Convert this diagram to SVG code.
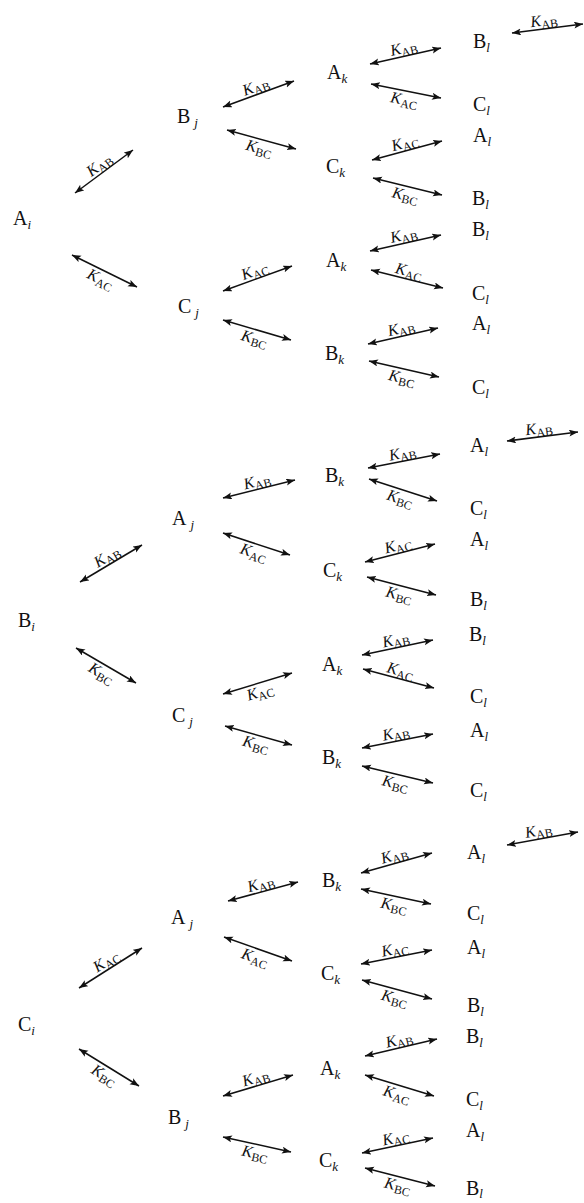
<svg xmlns="http://www.w3.org/2000/svg" width="584" height="1203" viewBox="0 0 584 1203">
<style>
.n{font-family:"Liberation Serif","Times New Roman",serif;font-size:20px;fill:#111}
.s{font-style:italic;font-size:13px}
.c line{stroke:#111;stroke-width:1.5;marker-start:url(#ah);marker-end:url(#ah)}
.k{font-family:"Liberation Serif","Times New Roman",serif;font-size:16px;font-style:italic;fill:#111;text-anchor:middle}
.ks{font-style:normal;font-size:12px}
</style>
<defs>
<marker id="ah" markerUnits="userSpaceOnUse" markerWidth="10" markerHeight="8" refX="9" refY="3.5" orient="auto-start-reverse" viewBox="0 0 10 8">
<path d="M0,0 L9,3.5 L0,7 L2,3.5 z" fill="#111"/>
</marker>
</defs>
<rect width="584" height="1203" fill="#fff"/>
<g id="connectors" class="c">
<line x1="75" y1="193" x2="133" y2="150"/>
<line x1="72" y1="255" x2="137" y2="287"/>
<line x1="223" y1="107" x2="294" y2="81"/>
<line x1="227" y1="130" x2="296" y2="149"/>
<line x1="370" y1="64" x2="441" y2="48"/>
<line x1="371" y1="84" x2="441" y2="98"/>
<line x1="512" y1="33" x2="583" y2="24"/>
<line x1="372" y1="160" x2="442" y2="141"/>
<line x1="373" y1="178" x2="442" y2="195"/>
<line x1="223" y1="291" x2="292" y2="266"/>
<line x1="223" y1="320" x2="291" y2="340"/>
<line x1="370" y1="251" x2="441" y2="235"/>
<line x1="371" y1="270" x2="443" y2="288"/>
<line x1="368" y1="344" x2="438" y2="328"/>
<line x1="369" y1="361" x2="439" y2="377"/>
<line x1="80" y1="582" x2="142" y2="545"/>
<line x1="76" y1="648" x2="136" y2="683"/>
<line x1="223" y1="498" x2="295" y2="480"/>
<line x1="223" y1="533" x2="290" y2="555"/>
<line x1="368" y1="468" x2="440" y2="454"/>
<line x1="369" y1="479" x2="437" y2="501"/>
<line x1="507" y1="441" x2="578" y2="432"/>
<line x1="365" y1="562" x2="435" y2="544"/>
<line x1="367" y1="577" x2="436" y2="595"/>
<line x1="223" y1="694" x2="292" y2="673"/>
<line x1="225" y1="726" x2="292" y2="745"/>
<line x1="362" y1="655" x2="433" y2="640"/>
<line x1="363" y1="669" x2="434" y2="688"/>
<line x1="362" y1="748" x2="433" y2="734"/>
<line x1="362" y1="766" x2="433" y2="783"/>
<line x1="79" y1="988" x2="142" y2="948"/>
<line x1="79" y1="1049" x2="139" y2="1086"/>
<line x1="228" y1="901" x2="298" y2="882"/>
<line x1="224" y1="937" x2="292" y2="961"/>
<line x1="361" y1="873" x2="432" y2="853"/>
<line x1="361" y1="889" x2="431" y2="904"/>
<line x1="507" y1="845" x2="578" y2="832"/>
<line x1="361" y1="964" x2="432" y2="950"/>
<line x1="362" y1="980" x2="432" y2="999"/>
<line x1="223" y1="1096" x2="293" y2="1075"/>
<line x1="223" y1="1137" x2="291" y2="1152"/>
<line x1="365" y1="1056" x2="437" y2="1039"/>
<line x1="365" y1="1075" x2="434" y2="1096"/>
<line x1="362" y1="1153" x2="433" y2="1138"/>
<line x1="365" y1="1168" x2="435" y2="1186"/>
<g id="labels">
<text class="k" transform="translate(104,171.5) rotate(-36.6)" y="-3">K<tspan class="ks" dy="3">AB</tspan></text>
<text class="k" transform="translate(104.5,271) rotate(26.2)" y="14">K<tspan class="ks" dy="3">AC</tspan></text>
<text class="k" transform="translate(258.5,94) rotate(-20.1)" y="-3">K<tspan class="ks" dy="3">AB</tspan></text>
<text class="k" transform="translate(261.5,139.5) rotate(15.4)" y="14">K<tspan class="ks" dy="3">BC</tspan></text>
<text class="k" transform="translate(405.5,56) rotate(-12.7)" y="-3">K<tspan class="ks" dy="3">AB</tspan></text>
<text class="k" transform="translate(406,91) rotate(11.3)" y="14">K<tspan class="ks" dy="3">AC</tspan></text>
<text class="k" transform="translate(545,28.5) rotate(-7.2)" y="-3">K<tspan class="ks" dy="3">AB</tspan></text>
<text class="k" transform="translate(407,150.5) rotate(-15.2)" y="-3">K<tspan class="ks" dy="3">AC</tspan></text>
<text class="k" transform="translate(407.5,186.5) rotate(13.8)" y="14">K<tspan class="ks" dy="3">BC</tspan></text>
<text class="k" transform="translate(257.5,278.5) rotate(-19.9)" y="-3">K<tspan class="ks" dy="3">AC</tspan></text>
<text class="k" transform="translate(257,330) rotate(16.4)" y="14">K<tspan class="ks" dy="3">BC</tspan></text>
<text class="k" transform="translate(405.5,243) rotate(-12.7)" y="-3">K<tspan class="ks" dy="3">AB</tspan></text>
<text class="k" transform="translate(407,279) rotate(14)" y="-3">K<tspan class="ks" dy="3">AC</tspan></text>
<text class="k" transform="translate(403,336) rotate(-12.9)" y="-3">K<tspan class="ks" dy="3">AB</tspan></text>
<text class="k" transform="translate(404,369) rotate(12.9)" y="14">K<tspan class="ks" dy="3">BC</tspan></text>
<text class="k" transform="translate(111,563.5) rotate(-30.8)" y="-3">K<tspan class="ks" dy="3">AB</tspan></text>
<text class="k" transform="translate(106,665.5) rotate(30.3)" y="14">K<tspan class="ks" dy="3">BC</tspan></text>
<text class="k" transform="translate(259,489) rotate(-14)" y="-3">K<tspan class="ks" dy="3">AB</tspan></text>
<text class="k" transform="translate(256.5,544) rotate(18.2)" y="14">K<tspan class="ks" dy="3">AC</tspan></text>
<text class="k" transform="translate(404,461) rotate(-11)" y="-3">K<tspan class="ks" dy="3">AB</tspan></text>
<text class="k" transform="translate(403,490) rotate(17.9)" y="14">K<tspan class="ks" dy="3">BC</tspan></text>
<text class="k" transform="translate(540,436.5) rotate(-7.2)" y="-3">K<tspan class="ks" dy="3">AB</tspan></text>
<text class="k" transform="translate(400,553) rotate(-14.4)" y="-3">K<tspan class="ks" dy="3">AC</tspan></text>
<text class="k" transform="translate(401.5,586) rotate(14.6)" y="14">K<tspan class="ks" dy="3">BC</tspan></text>
<text class="k" transform="translate(257.5,683.5) rotate(-16.9)" y="14">K<tspan class="ks" dy="3">AC</tspan></text>
<text class="k" transform="translate(258.5,735.5) rotate(15.8)" y="14">K<tspan class="ks" dy="3">BC</tspan></text>
<text class="k" transform="translate(397.5,647.5) rotate(-11.9)" y="-3">K<tspan class="ks" dy="3">AB</tspan></text>
<text class="k" transform="translate(398.5,678.5) rotate(15)" y="-3">K<tspan class="ks" dy="3">AC</tspan></text>
<text class="k" transform="translate(397.5,741) rotate(-11.2)" y="-3">K<tspan class="ks" dy="3">AB</tspan></text>
<text class="k" transform="translate(397.5,774.5) rotate(13.5)" y="14">K<tspan class="ks" dy="3">BC</tspan></text>
<text class="k" transform="translate(110.5,968) rotate(-32.4)" y="-3">K<tspan class="ks" dy="3">AC</tspan></text>
<text class="k" transform="translate(109,1067.5) rotate(31.7)" y="14">K<tspan class="ks" dy="3">BC</tspan></text>
<text class="k" transform="translate(263,891.5) rotate(-15.2)" y="-3">K<tspan class="ks" dy="3">AB</tspan></text>
<text class="k" transform="translate(258,949) rotate(19.4)" y="14">K<tspan class="ks" dy="3">AC</tspan></text>
<text class="k" transform="translate(396.5,863) rotate(-15.7)" y="-3">K<tspan class="ks" dy="3">AB</tspan></text>
<text class="k" transform="translate(396,896.5) rotate(12.1)" y="14">K<tspan class="ks" dy="3">BC</tspan></text>
<text class="k" transform="translate(540,838.5) rotate(-10.4)" y="-3">K<tspan class="ks" dy="3">AB</tspan></text>
<text class="k" transform="translate(396.5,957) rotate(-11.2)" y="-3">K<tspan class="ks" dy="3">AC</tspan></text>
<text class="k" transform="translate(397,989.5) rotate(15.2)" y="14">K<tspan class="ks" dy="3">BC</tspan></text>
<text class="k" transform="translate(258,1085.5) rotate(-16.7)" y="-3">K<tspan class="ks" dy="3">AB</tspan></text>
<text class="k" transform="translate(257,1144.5) rotate(12.4)" y="14">K<tspan class="ks" dy="3">BC</tspan></text>
<text class="k" transform="translate(401,1047.5) rotate(-13.3)" y="-3">K<tspan class="ks" dy="3">AB</tspan></text>
<text class="k" transform="translate(399.5,1085.5) rotate(16.9)" y="14">K<tspan class="ks" dy="3">AC</tspan></text>
<text class="k" transform="translate(397.5,1145.5) rotate(-11.9)" y="-3">K<tspan class="ks" dy="3">AC</tspan></text>
<text class="k" transform="translate(400,1177) rotate(14.4)" y="14">K<tspan class="ks" dy="3">BC</tspan></text>
</g>
</g>
<g id="nodes">
<g id="A_i"><text class="n" x="13" y="225">A<tspan class="s" dy="4">i</tspan></text></g>
<g id="B_j1"><text class="n" x="177" y="123">B<tspan class="s" dx="4" dy="4">j</tspan></text></g>
<g id="C_j1"><text class="n" x="178" y="313">C<tspan class="s" dx="4" dy="4">j</tspan></text></g>
<g id="A_k1"><text class="n" x="327" y="79">A<tspan class="s" dy="4">k</tspan></text></g>
<g id="C_k1"><text class="n" x="326" y="173">C<tspan class="s" dy="4">k</tspan></text></g>
<g id="A_k2"><text class="n" x="326" y="267">A<tspan class="s" dy="4">k</tspan></text></g>
<g id="B_k2"><text class="n" x="325" y="360">B<tspan class="s" dy="4">k</tspan></text></g>
<g id="B_l1"><text class="n" x="473" y="48">B<tspan class="s" dy="4">l</tspan></text></g>
<g id="C_l1"><text class="n" x="473" y="111">C<tspan class="s" dy="4">l</tspan></text></g>
<g id="A_l2"><text class="n" x="473" y="142">A<tspan class="s" dy="4">l</tspan></text></g>
<g id="B_l2"><text class="n" x="472" y="205">B<tspan class="s" dy="4">l</tspan></text></g>
<g id="B_l3"><text class="n" x="472" y="236">B<tspan class="s" dy="4">l</tspan></text></g>
<g id="C_l3"><text class="n" x="472" y="300">C<tspan class="s" dy="4">l</tspan></text></g>
<g id="A_l4"><text class="n" x="472" y="330">A<tspan class="s" dy="4">l</tspan></text></g>
<g id="C_l4"><text class="n" x="472" y="394">C<tspan class="s" dy="4">l</tspan></text></g>
<g id="B_i"><text class="n" x="18" y="627">B<tspan class="s" dy="4">i</tspan></text></g>
<g id="A_j2"><text class="n" x="172" y="525">A<tspan class="s" dx="4" dy="4">j</tspan></text></g>
<g id="C_j2"><text class="n" x="172" y="722">C<tspan class="s" dx="4" dy="4">j</tspan></text></g>
<g id="B_k3"><text class="n" x="325" y="482">B<tspan class="s" dy="4">k</tspan></text></g>
<g id="C_k3"><text class="n" x="323" y="577">C<tspan class="s" dy="4">k</tspan></text></g>
<g id="A_k4"><text class="n" x="322" y="671">A<tspan class="s" dy="4">k</tspan></text></g>
<g id="B_k4"><text class="n" x="322" y="764">B<tspan class="s" dy="4">k</tspan></text></g>
<g id="A_l5"><text class="n" x="470" y="452">A<tspan class="s" dy="4">l</tspan></text></g>
<g id="C_l5"><text class="n" x="470" y="515">C<tspan class="s" dy="4">l</tspan></text></g>
<g id="A_l6"><text class="n" x="470" y="546">A<tspan class="s" dy="4">l</tspan></text></g>
<g id="B_l6"><text class="n" x="470" y="606">B<tspan class="s" dy="4">l</tspan></text></g>
<g id="B_l7"><text class="n" x="469" y="641">B<tspan class="s" dy="4">l</tspan></text></g>
<g id="C_l7"><text class="n" x="470" y="703">C<tspan class="s" dy="4">l</tspan></text></g>
<g id="A_l8"><text class="n" x="470" y="737">A<tspan class="s" dy="4">l</tspan></text></g>
<g id="C_l8"><text class="n" x="470" y="797">C<tspan class="s" dy="4">l</tspan></text></g>
<g id="C_i"><text class="n" x="18" y="1031">C<tspan class="s" dy="4">i</tspan></text></g>
<g id="A_j3"><text class="n" x="171" y="924">A<tspan class="s" dx="4" dy="4">j</tspan></text></g>
<g id="B_j3"><text class="n" x="168" y="1124">B<tspan class="s" dx="4" dy="4">j</tspan></text></g>
<g id="B_k5"><text class="n" x="322" y="887">B<tspan class="s" dy="4">k</tspan></text></g>
<g id="C_k5"><text class="n" x="321" y="980">C<tspan class="s" dy="4">k</tspan></text></g>
<g id="A_k6"><text class="n" x="320" y="1075">A<tspan class="s" dy="4">k</tspan></text></g>
<g id="C_k6"><text class="n" x="319" y="1167">C<tspan class="s" dy="4">k</tspan></text></g>
<g id="A_l9"><text class="n" x="467" y="859">A<tspan class="s" dy="4">l</tspan></text></g>
<g id="C_l9"><text class="n" x="467" y="920">C<tspan class="s" dy="4">l</tspan></text></g>
<g id="A_l10"><text class="n" x="467" y="954">A<tspan class="s" dy="4">l</tspan></text></g>
<g id="B_l10"><text class="n" x="467" y="1012">B<tspan class="s" dy="4">l</tspan></text></g>
<g id="B_l11"><text class="n" x="466" y="1043">B<tspan class="s" dy="4">l</tspan></text></g>
<g id="C_l11"><text class="n" x="466" y="1106">C<tspan class="s" dy="4">l</tspan></text></g>
<g id="A_l12"><text class="n" x="466" y="1137">A<tspan class="s" dy="4">l</tspan></text></g>
<g id="B_l12"><text class="n" x="466" y="1195">B<tspan class="s" dy="3">l</tspan></text></g>
</g>
</svg>
